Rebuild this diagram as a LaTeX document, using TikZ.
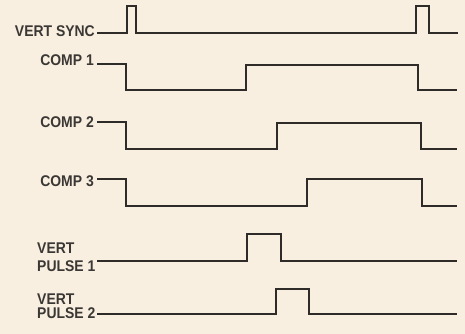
\documentclass[tikz,border=0pt]{standalone}
\usepackage{fontspec}
\setmainfont{Liberation Sans}
\newfontfamily\lblfont[FakeStretch=0.9]{Liberation Sans}
\definecolor{bgc}{HTML}{F8EFE0}
\definecolor{wavec}{HTML}{2E2B28}
\definecolor{labelc}{HTML}{3A3734}
\begin{document}
\begin{tikzpicture}[x=1pt,y=-1pt,
  wave/.style={draw=wavec, line width=2.3pt, line join=miter},
  lbl/.style={font=\lblfont\bfseries\fontsize{15.5}{17}\selectfont, text=labelc, inner sep=0pt}]
\fill[bgc] (0,0) rectangle (465,334);
\useasboundingbox (0,0) rectangle (465,334);
% labels
\node[lbl, anchor=base east] (vs) at (95,37) {VERT SYNC};
\node[lbl, anchor=base east] (c1) at (94,66) {COMP 1};
\node[lbl, anchor=base east] (c2) at (94,128) {COMP 2};
\node[lbl, anchor=base east] (c3) at (94,186) {COMP 3};
\node[lbl, anchor=base west] (vp1a) at (37,253) {VERT};
\node[lbl, anchor=base west] (vp1b) at (37,271) {PULSE 1};
\node[lbl, anchor=base west] (vp2a) at (37,304) {VERT};
\node[lbl, anchor=base west] (vp2b) at (37,318) {PULSE 2};
% start points
\coordinate (svs) at (97,33);
\coordinate (sc1) at (97,64);
\coordinate (sc2) at (97,122);
\coordinate (sc3) at (97,179);
\coordinate (sp1) at (97,261);
\coordinate (sp2) at (97,314);
% waveforms
\draw[wave] (svs) -- (127,33) -- (127,6) -- (136,6) -- (136,33) -- (416,33) -- (416,6) -- (429,6) -- (429,33) -- (458,33);
\draw[wave] (sc1) -- (126,64) -- (126,90) -- (246,90) -- (246,65) -- (418,65) -- (418,90) -- (457,90);
\draw[wave] (sc2) -- (126,122) -- (126,149) -- (277,149) -- (277,123) -- (421,123) -- (421,149) -- (457,149);
\draw[wave] (sc3) -- (126,179) -- (126,206) -- (307,206) -- (307,179) -- (422,179) -- (422,206) -- (457,206);
\draw[wave] (sp1) -- (247,261) -- (247,234) -- (281,234) -- (281,261) -- (457,261);
\draw[wave] (sp2) -- (276,314) -- (276,289) -- (309,289) -- (309,314) -- (457,314);
\end{tikzpicture}
\end{document}
